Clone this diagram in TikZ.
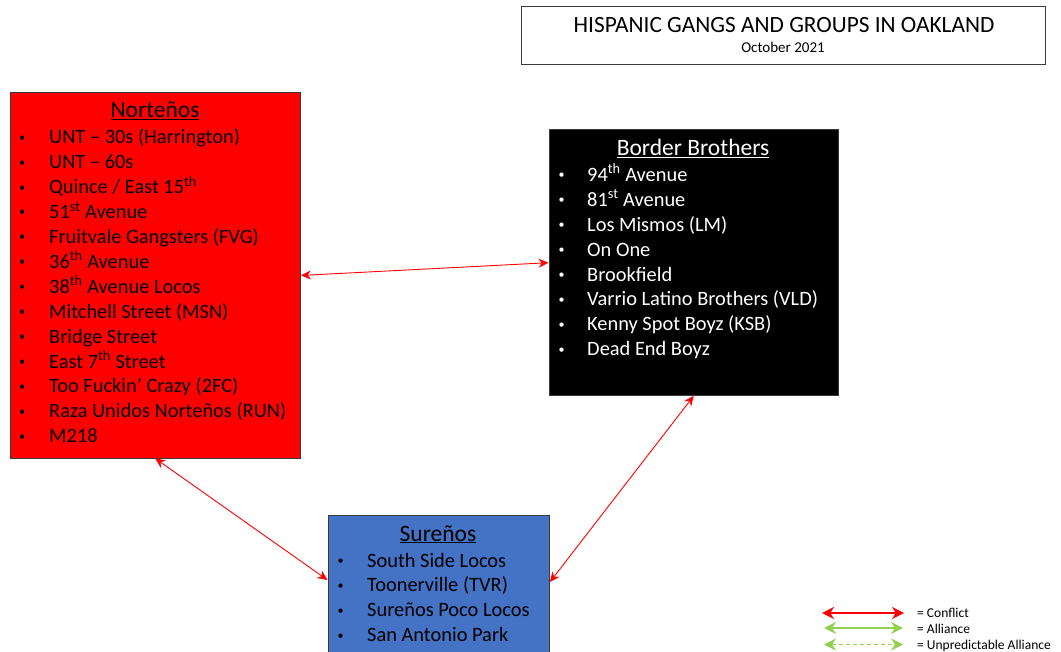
\documentclass[tikz,border=0pt]{standalone}
\usepackage{fontspec}
\setmainfont{Carlito}
\usetikzlibrary{arrows.meta,calc}
\definecolor{nred}{HTML}{FF0000}
\definecolor{sblue}{HTML}{4472C4}
\definecolor{lgreen}{HTML}{92D050}
\definecolor{edge}{HTML}{3A3A3A}
\tikzset{
  box/.style={draw=edge, line width=0.9pt, anchor=north west, inner sep=0pt},
  head/.style={anchor=base, inner sep=0pt, font=\fontsize{23.5}{28}\selectfont},
  itm/.style={anchor=base west, inner sep=0pt, font=\fontsize{20.4}{24}\selectfont},
  bul/.style={anchor=base, inner sep=0pt, font=\fontsize{12}{14}\selectfont},
  conflict/.style={draw=nred, line width=0.9pt, {Stealth[length=10pt,width=9pt]}-{Stealth[length=10pt,width=9pt]}},
  lconf/.style={draw=nred, line width=2pt, {Stealth[length=12pt,width=12pt]}-{Stealth[length=12pt,width=12pt]}},
  lall/.style={draw=lgreen, line width=2pt, {Stealth[length=12pt,width=12pt]}-{Stealth[length=12pt,width=12pt]}},
  lunp/.style={draw=lgreen, line width=1.2pt, dash pattern=on 4pt off 3pt, {Stealth[length=12pt,width=12pt]}-{Stealth[length=12pt,width=12pt]}},
  ltext/.style={anchor=base west, inner sep=0pt, font=\fontsize{13.5}{16}\selectfont},
}
\begin{document}
\begin{tikzpicture}[x=1pt,y=-1pt]
\useasboundingbox (0,0) rectangle (1061,652);
% title
\node[box, minimum width=524pt, minimum height=57.5pt] (title) at (521,6.5) {};
\node[anchor=base, inner sep=0pt, font=\fontsize{23.3}{27}\selectfont] (ttext) at (784,33) {HISPANIC GANGS AND GROUPS IN OAKLAND};
\node[anchor=base, inner sep=0pt, font=\fontsize{15}{18}\selectfont] (tdate) at (783,53) {October 2021};
% boxes
\node[box, fill=nred, minimum width=290.5pt, minimum height=365pt] (nort) at (9.5,92.5) {};
\node[box, fill=black, minimum width=289.5pt, minimum height=265.5pt] (bord) at (548.5,129.5) {};
\node[box, fill=sblue, minimum width=221.5pt, minimum height=150pt] (sur) at (327.5,514.5) {};
% Nortenos
\node[head] (nh) at (155,118) {\underline{Norteños}};
\foreach \t [count=\i] in {UNT – 30s (Harrington), UNT – 60s, Quince / East 15\textsuperscript{th}, 51\textsuperscript{st} Avenue, Fruitvale Gangsters (FVG), 36\textsuperscript{th} Avenue, 38\textsuperscript{th} Avenue Locos, Mitchell Street (MSN), Bridge Street, East 7\textsuperscript{th} Street, Too Fuckin’ Crazy (2FC), Raza Unidos Norteños (RUN), M218}{
  \node[bul] (nb\i) at (22,{144+24.9*(\i-1)-2.7}) {•};
  \node[itm] (n\i) at (49,{144+24.9*(\i-1)}) {\t};
}
% Border Brothers
\node[head, text=white] (bh) at (693,156) {\underline{Border Brothers}};
\foreach \t [count=\i] in {94\textsuperscript{th} Avenue, 81\textsuperscript{st} Avenue, Los Mismos (LM), On One, Brookfield, Varrio Latino Brothers (VLD), Kenny Spot Boyz (KSB), Dead End Boyz}{
  \node[bul, text=white] (bb\i) at (561.5,{181.5+24.9*(\i-1)-2.7}) {•};
  \node[itm, text=white] (b\i) at (587,{181.5+24.9*(\i-1)}) {\t};
}
% Surenos
\node[head] (sh) at (438,541) {\underline{Sureños}};
\foreach \t [count=\i] in {South Side Locos, Toonerville (TVR), Sureños Poco Locos, San Antonio Park}{
  \node[bul] (sb\i) at (340.5,{567+24.9*(\i-1)-2.7}) {•};
  \node[itm] (s\i) at (367,{567+24.9*(\i-1)}) {\t};
}
% connectors
\coordinate (surW) at ($(sur.north west)+(0,65.5)$);
\coordinate (surE) at ($(sur.north east)+(0,67.5)$);
\draw[conflict] (nort.east) -- (bord.west);
\draw[conflict] (nort.south) -- (surW);
\draw[conflict] (bord.south) -- (surE);
% legend
\coordinate (l1a) at (822,613); \coordinate (l1b) at (904,613);
\coordinate (l2a) at (824,628); \coordinate (l2b) at (903,628);
\coordinate (l3a) at (824,644.5); \coordinate (l3b) at (903,644.5);
\draw[lconf] (l1a) -- (l1b);
\draw[lall] (l2a) -- (l2b);
\draw[lunp] (l3a) -- (l3b);
\node[ltext] (lt1) at (917,617) {= Conflict};
\node[ltext] (lt2) at (917,633) {= Alliance};
\node[ltext] (lt3) at (917,649.5) {= Unpredictable Alliance};
\end{tikzpicture}
\end{document}
